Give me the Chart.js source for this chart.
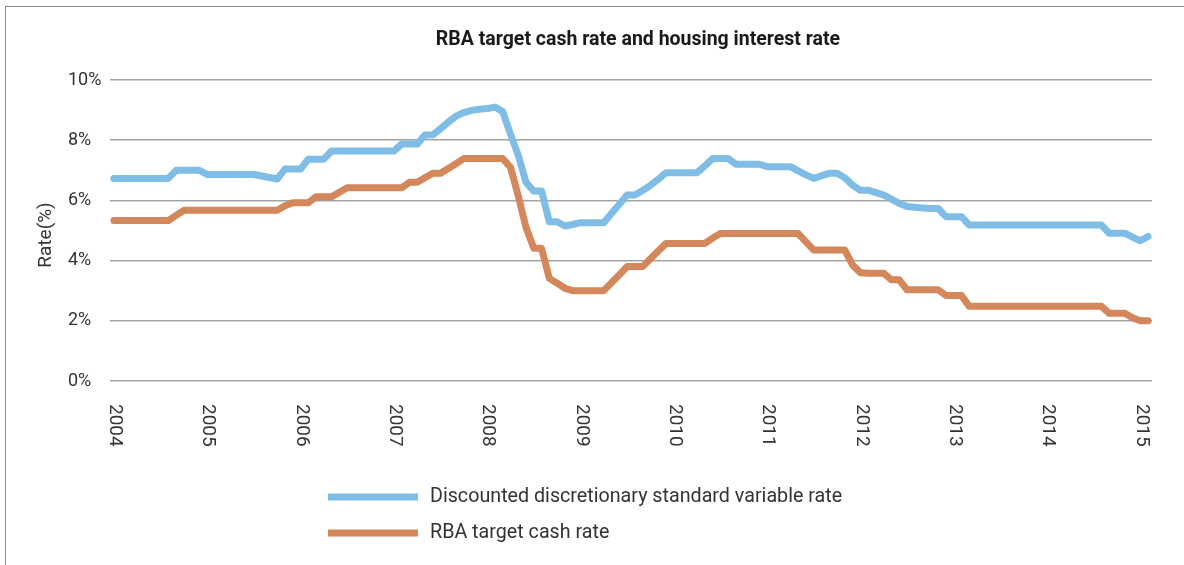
<!DOCTYPE html>
<html>
<head>
<meta charset="utf-8">
<script src="https://cdn.jsdelivr.net/npm/chart.js@4.4.0/dist/chart.umd.min.js"></script>
<style>
  html, body { margin: 0; padding: 0; background: #fff; overflow: hidden; }
  #frame { position: absolute; left: 5px; top: 6px; width: 1400px; height: 800px; border: 1px solid #8a8a8a; }
  #wrap { position: absolute; left: 0; top: 0; width: 1184px; height: 565px; }
</style>
</head>
<body>
<div id="frame"></div>
<div id="wrap"><canvas id="chart"></canvas></div>
<script>
const chartTitle = 'RBA target cash rate and housing interest rate';
const yAxisTitle = 'Rate(%)';
const years = ['2004', '2005', '2006', '2007', '2008', '2009', '2010', '2011', '2012', '2013', '2014', '2015'];
const seriesNames = ['Discounted discretionary standard variable rate', 'RBA target cash rate'];
const seriesColors = ['#80bde6', '#d4875a'];

// monthly values, one row per year
const variableRate = [
    6.73, 6.73, 6.73, 6.73, 6.73, 6.73, 6.73, 6.73, 7.00, 7.00, 7.00, 7.00,
    6.86, 6.86, 6.86, 6.86, 6.86, 6.86, 6.86, 6.81, 6.76, 6.71, 7.04, 7.04,
    7.04, 7.37, 7.37, 7.37, 7.64, 7.64, 7.64, 7.64, 7.64, 7.64, 7.64, 7.64,
    7.64, 7.87, 7.87, 7.87, 8.17, 8.17, 8.38, 8.60, 8.80, 8.92, 8.99, 9.03,
    9.05, 9.10, 8.95, 8.20, 7.50, 6.60, 6.31, 6.31, 5.29, 5.29, 5.15, 5.20,
    5.26, 5.26, 5.26, 5.26, 5.57, 5.87, 6.18, 6.18, 6.33, 6.50, 6.70, 6.92,
    6.92, 6.92, 6.92, 6.92, 7.15, 7.39, 7.39, 7.39, 7.20, 7.20, 7.20, 7.20,
    7.12, 7.12, 7.12, 7.12, 6.98, 6.85, 6.73, 6.82, 6.90, 6.90, 6.75, 6.50,
    6.34, 6.34, 6.26, 6.18, 6.04, 5.90, 5.80, 5.77, 5.75, 5.73, 5.73, 5.46,
    5.46, 5.46, 5.18, 5.18, 5.18, 5.18, 5.18, 5.18, 5.18, 5.18, 5.18, 5.18,
    5.18, 5.18, 5.18, 5.18, 5.18, 5.18, 5.18, 5.18, 4.91, 4.91, 4.91, 4.78,
    4.66, 4.80
];

const cashRate = [
    5.33, 5.33, 5.33, 5.33, 5.33, 5.33, 5.33, 5.33, 5.50, 5.67, 5.67, 5.67,
    5.67, 5.67, 5.67, 5.67, 5.67, 5.67, 5.67, 5.67, 5.67, 5.67, 5.82, 5.92,
    5.92, 5.92, 6.12, 6.12, 6.12, 6.27, 6.42, 6.42, 6.42, 6.42, 6.42, 6.42,
    6.42, 6.42, 6.60, 6.60, 6.75, 6.90, 6.90, 7.06, 7.22, 7.39, 7.39, 7.39,
    7.39, 7.39, 7.39, 7.10, 6.15, 5.10, 4.41, 4.41, 3.41, 3.25, 3.08, 3.00,
    3.00, 3.00, 3.00, 3.00, 3.27, 3.53, 3.80, 3.80, 3.80, 4.06, 4.32, 4.57,
    4.57, 4.57, 4.57, 4.57, 4.57, 4.75, 4.90, 4.90, 4.90, 4.90, 4.90, 4.90,
    4.90, 4.90, 4.90, 4.90, 4.90, 4.62, 4.35, 4.35, 4.35, 4.35, 4.35, 3.85,
    3.60, 3.58, 3.58, 3.58, 3.36, 3.36, 3.03, 3.03, 3.03, 3.03, 3.03, 2.84,
    2.84, 2.84, 2.48, 2.48, 2.48, 2.48, 2.48, 2.48, 2.48, 2.48, 2.48, 2.48,
    2.48, 2.48, 2.48, 2.48, 2.48, 2.48, 2.48, 2.48, 2.25, 2.25, 2.25, 2.10,
    2.00, 2.00
];

// month categories, Jan 2004 onwards, as many as there are values
const months = [];
years.forEach(y => {
    for (let m = 1; m <= 12; m++) months.push(y + '-' + String(m).padStart(2, '0'));
});
months.length = variableRate.length;

const textColor = '#333333';
const fontFamily = 'Roboto, "Open Sans", sans-serif';

// title, rotated year labels, axis title and stacked legend
const decorations = {
    id: 'decorations',
    afterDraw(chart) {
        const { ctx, scales: { x } } = chart;
        ctx.save();

        ctx.fillStyle = '#1a1a1a';
        ctx.font = 'bold 19.5px ' + fontFamily;
        ctx.textAlign = 'center';
        ctx.textBaseline = 'middle';
        ctx.fillText(chartTitle, 638, 40);

        ctx.fillStyle = textColor;
        ctx.font = '19px ' + fontFamily;
        ctx.textAlign = 'left';
        ctx.textBaseline = 'alphabetic';
        years.forEach((yr, k) => {
            const px = x.getPixelForValue(k * 12) + 3;
            ctx.save();
            ctx.translate(px - 6.8, 404);
            ctx.rotate(Math.PI / 2);
            ctx.fillText(yr, 0, 0);
            ctx.restore();
        });

        ctx.save();
        ctx.translate(50.5, 235);
        ctx.rotate(-Math.PI / 2);
        ctx.textAlign = 'center';
        ctx.fillText(yAxisTitle, 0, 0);
        ctx.restore();

        ctx.font = '19.7px ' + fontFamily;
        ctx.textBaseline = 'middle';
        chart.data.datasets.forEach((ds, i) => {
            const ly = 497 + i * 36;
            ctx.strokeStyle = ds.borderColor;
            ctx.lineWidth = 7;
            ctx.lineCap = 'butt';
            ctx.beginPath();
            ctx.moveTo(328, ly);
            ctx.lineTo(418, ly);
            ctx.stroke();
            ctx.fillStyle = textColor;
            ctx.fillText(ds.label, 430, ly);
        });
        ctx.restore();
    }
};

new Chart(document.getElementById('chart'), {
    type: 'line',
    data: {
        labels: months,
        datasets: [variableRate, cashRate].map((values, i) => ({
            label: seriesNames[i],
            data: values,
            borderColor: seriesColors[i],
            backgroundColor: seriesColors[i],
            borderWidth: 7,
            borderJoinStyle: 'round',
            borderCapStyle: 'round',
            pointRadius: 0,
            tension: 0,
            fill: false
        }))
    },
    options: {
        responsive: true,
        maintainAspectRatio: false,
        animation: false,
        layout: { padding: { left: 68, right: 32, top: 80, bottom: 0 } },
        plugins: {
            legend: { display: false },
            title: { display: false },
            tooltip: { enabled: false }
        },
        scales: {
            x: {
                type: 'category',
                offset: true,
                grid: { display: false },
                border: { display: false },
                ticks: { display: false },
                afterFit: scale => { scale.height = 184; }
            },
            y: {
                min: 0,
                max: 10,
                border: { display: false },
                grid: { color: '#a3a3a3', lineWidth: 1.5, drawTicks: false },
                ticks: {
                    stepSize: 2,
                    crossAlign: 'far',
                    color: textColor,
                    font: { family: fontFamily, size: 18 },
                    callback: v => v + '%'
                },
                afterFit: scale => { scale.width = 42; }
            }
        }
    },
    plugins: [decorations]
});
</script>
</body>
</html>
